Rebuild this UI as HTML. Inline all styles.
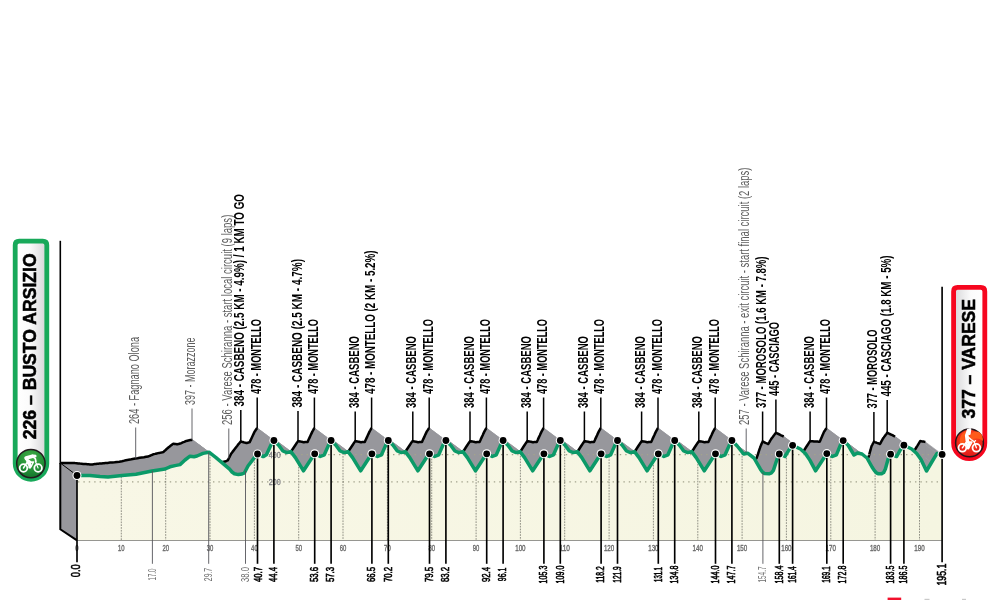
<!DOCTYPE html>
<html><head><meta charset="utf-8"><title>Profile</title>
<style>html,body{margin:0;padding:0;background:#fff;}body{width:1000px;height:600px;overflow:hidden;font-family:"Liberation Sans",sans-serif;}svg{display:block;will-change:transform;}</style>
</head><body>
<svg width="1000" height="600" viewBox="0 0 1000 600" font-family="'Liberation Sans', sans-serif">
<defs>
<linearGradient id="gl" x1="0" x2="1" y1="0" y2="0"><stop offset="0" stop-color="#ffffff"/><stop offset="0.45" stop-color="#fbfbfb"/><stop offset="1" stop-color="#d4d4d6"/></linearGradient>
<linearGradient id="gr" x1="0" x2="1" y1="0" y2="0"><stop offset="0" stop-color="#d6d6d8"/><stop offset="0.55" stop-color="#fbfbfb"/><stop offset="1" stop-color="#ffffff"/></linearGradient>
<radialGradient id="gg" cx="0.5" cy="0.3" r="0.75"><stop offset="0" stop-color="#44ad45"/><stop offset="0.55" stop-color="#259238"/><stop offset="1" stop-color="#0f6e2a"/></radialGradient>
<radialGradient id="rg" cx="0.5" cy="0.35" r="0.75"><stop offset="0" stop-color="#ff5a1e"/><stop offset="0.55" stop-color="#ef2a1a"/><stop offset="1" stop-color="#d8101a"/></radialGradient>
<linearGradient id="yl" x1="0" x2="1" y1="0" y2="0"><stop offset="0" stop-color="#f8f7e6"/><stop offset="1" stop-color="#f5f5e1"/></linearGradient>
</defs>
<rect width="1000" height="600" fill="#fff"/>
<polygon points="77.0,475.5 90.0,475.4 73.3,462.9 60.3,463.0" fill="#97979c" stroke="#97979c" stroke-width="0.6"/>
<polygon points="90.0,475.4 100.0,476.4 83.3,463.9 73.3,462.9" fill="#97979c" stroke="#97979c" stroke-width="0.6"/>
<polygon points="100.0,476.4 108.0,477.0 91.3,464.5 83.3,463.9" fill="#97979c" stroke="#97979c" stroke-width="0.6"/>
<polygon points="108.0,477.0 115.0,476.2 98.3,463.7 91.3,464.5" fill="#97979c" stroke="#97979c" stroke-width="0.6"/>
<polygon points="115.0,476.2 122.0,475.6 105.3,463.1 98.3,463.7" fill="#97979c" stroke="#97979c" stroke-width="0.6"/>
<polygon points="122.0,475.6 136.0,474.2 119.3,461.7 105.3,463.1" fill="#97979c" stroke="#97979c" stroke-width="0.6"/>
<polygon points="136.0,474.2 152.0,471.0 135.3,458.5 119.3,461.7" fill="#97979c" stroke="#97979c" stroke-width="0.6"/>
<polygon points="152.0,471.0 165.0,469.0 148.3,456.5 135.3,458.5" fill="#97979c" stroke="#97979c" stroke-width="0.6"/>
<polygon points="165.0,469.0 170.0,466.8 153.3,454.3 148.3,456.5" fill="#97979c" stroke="#97979c" stroke-width="0.6"/>
<polygon points="170.0,466.8 175.0,465.6 158.3,453.1 153.3,454.3" fill="#97979c" stroke="#97979c" stroke-width="0.6"/>
<polygon points="175.0,465.6 180.0,464.6 163.3,452.1 158.3,453.1" fill="#97979c" stroke="#97979c" stroke-width="0.6"/>
<polygon points="180.0,464.6 185.0,460.0 168.3,447.5 163.3,452.1" fill="#97979c" stroke="#97979c" stroke-width="0.6"/>
<polygon points="185.0,460.0 190.0,456.2 173.3,443.7 168.3,447.5" fill="#97979c" stroke="#97979c" stroke-width="0.6"/>
<polygon points="190.0,456.2 194.0,456.8 177.3,444.3 173.3,443.7" fill="#97979c" stroke="#97979c" stroke-width="0.6"/>
<polygon points="194.0,456.8 197.0,456.0 180.3,443.5 177.3,444.3" fill="#97979c" stroke="#97979c" stroke-width="0.6"/>
<polygon points="197.0,456.0 203.0,453.4 186.3,440.9 180.3,443.5" fill="#97979c" stroke="#97979c" stroke-width="0.6"/>
<polygon points="203.0,453.4 209.0,452.2 192.3,439.7 186.3,440.9" fill="#97979c" stroke="#97979c" stroke-width="0.6"/>
<polygon points="209.0,452.2 216.0,457.6 199.3,445.1 192.3,439.7" fill="#97979c" stroke="#97979c" stroke-width="0.6"/>
<polygon points="216.0,457.6 224.0,464.4 207.3,451.9 199.3,445.1" fill="#97979c" stroke="#97979c" stroke-width="0.6"/>
<polygon points="224.0,464.4 229.6,469.2 212.9,456.7 207.3,451.9" fill="#97979c" stroke="#97979c" stroke-width="0.6"/>
<polygon points="229.6,469.2 232.0,472.0 215.3,459.5 212.9,456.7" fill="#97979c" stroke="#97979c" stroke-width="0.6"/>
<polygon points="232.0,472.0 234.4,473.7 217.7,461.2 215.3,459.5" fill="#97979c" stroke="#97979c" stroke-width="0.6"/>
<polygon points="234.4,473.7 238.4,474.6 221.7,462.1 217.7,461.2" fill="#97979c" stroke="#97979c" stroke-width="0.6"/>
<polygon points="238.4,474.6 242.0,474.0 225.3,461.5 221.7,462.1" fill="#97979c" stroke="#97979c" stroke-width="0.6"/>
<polygon points="242.0,474.0 244.5,472.8 227.8,460.3 225.3,461.5" fill="#97979c" stroke="#97979c" stroke-width="0.6"/>
<polygon points="244.5,472.8 248.0,466.0 231.3,453.5 227.8,460.3" fill="#97979c" stroke="#97979c" stroke-width="0.6"/>
<polygon points="248.0,466.0 255.2,456.6 238.5,444.1 231.3,453.5" fill="#97979c" stroke="#97979c" stroke-width="0.6"/>
<polygon points="255.2,456.6 257.5,454.0 240.8,441.5 238.5,444.1" fill="#97979c" stroke="#97979c" stroke-width="0.6"/>
<polygon points="257.5,454.0 263.2,456.6 246.5,443.1 240.8,441.5" fill="#97979c" stroke="#97979c" stroke-width="0.6"/>
<polygon points="263.2,456.6 266.4,454.8 249.7,442.1 246.5,443.1" fill="#97979c" stroke="#97979c" stroke-width="0.6"/>
<polygon points="266.4,454.8 271.2,444.4 254.5,431.9 249.7,442.1" fill="#97979c" stroke="#97979c" stroke-width="0.6"/>
<polygon points="271.2,444.4 273.9,440.5 257.2,428.0 254.5,431.9" fill="#97979c" stroke="#97979c" stroke-width="0.6"/>
<polygon points="273.9,440.5 278.7,445.2 262.0,432.7 257.2,428.0" fill="#97979c" stroke="#97979c" stroke-width="0.6"/>
<polygon points="278.7,445.2 282.9,451.0 266.2,438.5 262.0,432.7" fill="#97979c" stroke="#97979c" stroke-width="0.6"/>
<polygon points="282.9,451.0 286.9,452.6 270.2,440.1 266.2,438.5" fill="#97979c" stroke="#97979c" stroke-width="0.6"/>
<polygon points="286.9,452.6 290.9,451.6 274.2,439.1 270.2,440.1" fill="#97979c" stroke="#97979c" stroke-width="0.6"/>
<polygon points="290.9,451.6 295.4,457.6 278.7,445.1 274.2,439.1" fill="#97979c" stroke="#97979c" stroke-width="0.6"/>
<polygon points="295.4,457.6 303.5,470.8 286.8,458.3 278.7,445.1" fill="#97979c" stroke="#97979c" stroke-width="0.6"/>
<polygon points="303.5,470.8 312.3,457.2 295.6,444.7 286.8,458.3" fill="#97979c" stroke="#97979c" stroke-width="0.6"/>
<polygon points="312.3,457.2 314.8,453.6 298.1,441.1 295.6,444.7" fill="#97979c" stroke="#97979c" stroke-width="0.6"/>
<polygon points="314.8,453.6 320.3,456.5 303.6,442.2 298.1,441.1" fill="#97979c" stroke="#97979c" stroke-width="0.6"/>
<polygon points="320.3,456.5 324.3,454.8 307.6,442.0 303.6,442.2" fill="#97979c" stroke="#97979c" stroke-width="0.6"/>
<polygon points="324.3,454.8 328.9,444.4 312.2,431.9 307.6,442.0" fill="#97979c" stroke="#97979c" stroke-width="0.6"/>
<polygon points="328.9,444.4 331.1,440.5 314.4,428.0 312.2,431.9" fill="#97979c" stroke="#97979c" stroke-width="0.6"/>
<polygon points="331.1,440.5 335.9,445.2 319.2,432.7 314.4,428.0" fill="#97979c" stroke="#97979c" stroke-width="0.6"/>
<polygon points="335.9,445.2 340.1,451.0 323.4,438.5 319.2,432.7" fill="#97979c" stroke="#97979c" stroke-width="0.6"/>
<polygon points="340.1,451.0 344.1,452.6 327.4,440.1 323.4,438.5" fill="#97979c" stroke="#97979c" stroke-width="0.6"/>
<polygon points="344.1,452.6 348.1,451.6 331.4,439.1 327.4,440.1" fill="#97979c" stroke="#97979c" stroke-width="0.6"/>
<polygon points="348.1,451.6 352.6,457.6 335.9,445.1 331.4,439.1" fill="#97979c" stroke="#97979c" stroke-width="0.6"/>
<polygon points="352.6,457.6 360.7,470.8 344.0,458.3 335.9,445.1" fill="#97979c" stroke="#97979c" stroke-width="0.6"/>
<polygon points="360.7,470.8 369.5,457.2 352.8,444.7 344.0,458.3" fill="#97979c" stroke="#97979c" stroke-width="0.6"/>
<polygon points="369.5,457.2 372.0,453.6 355.3,441.1 352.8,444.7" fill="#97979c" stroke="#97979c" stroke-width="0.6"/>
<polygon points="372.0,453.6 377.5,456.5 360.8,442.2 355.3,441.1" fill="#97979c" stroke="#97979c" stroke-width="0.6"/>
<polygon points="377.5,456.5 381.5,454.8 364.8,442.0 360.8,442.2" fill="#97979c" stroke="#97979c" stroke-width="0.6"/>
<polygon points="381.5,454.8 386.1,444.4 369.4,431.9 364.8,442.0" fill="#97979c" stroke="#97979c" stroke-width="0.6"/>
<polygon points="386.1,444.4 388.3,440.5 371.6,428.0 369.4,431.9" fill="#97979c" stroke="#97979c" stroke-width="0.6"/>
<polygon points="388.3,440.5 393.1,445.2 376.4,432.7 371.6,428.0" fill="#97979c" stroke="#97979c" stroke-width="0.6"/>
<polygon points="393.1,445.2 397.3,451.0 380.6,438.5 376.4,432.7" fill="#97979c" stroke="#97979c" stroke-width="0.6"/>
<polygon points="397.3,451.0 401.3,452.6 384.6,440.1 380.6,438.5" fill="#97979c" stroke="#97979c" stroke-width="0.6"/>
<polygon points="401.3,452.6 405.3,451.6 388.6,439.1 384.6,440.1" fill="#97979c" stroke="#97979c" stroke-width="0.6"/>
<polygon points="405.3,451.6 409.8,457.6 393.1,445.1 388.6,439.1" fill="#97979c" stroke="#97979c" stroke-width="0.6"/>
<polygon points="409.8,457.6 417.9,470.8 401.2,458.3 393.1,445.1" fill="#97979c" stroke="#97979c" stroke-width="0.6"/>
<polygon points="417.9,470.8 426.7,457.2 410.0,444.7 401.2,458.3" fill="#97979c" stroke="#97979c" stroke-width="0.6"/>
<polygon points="426.7,457.2 429.2,453.6 412.5,441.1 410.0,444.7" fill="#97979c" stroke="#97979c" stroke-width="0.6"/>
<polygon points="429.2,453.6 434.7,456.5 418.0,442.2 412.5,441.1" fill="#97979c" stroke="#97979c" stroke-width="0.6"/>
<polygon points="434.7,456.5 438.7,454.8 422.0,442.0 418.0,442.2" fill="#97979c" stroke="#97979c" stroke-width="0.6"/>
<polygon points="438.7,454.8 443.3,444.4 426.6,431.9 422.0,442.0" fill="#97979c" stroke="#97979c" stroke-width="0.6"/>
<polygon points="443.3,444.4 445.9,440.5 429.2,428.0 426.6,431.9" fill="#97979c" stroke="#97979c" stroke-width="0.6"/>
<polygon points="445.9,440.5 450.7,445.2 434.0,432.7 429.2,428.0" fill="#97979c" stroke="#97979c" stroke-width="0.6"/>
<polygon points="450.7,445.2 454.9,451.0 438.2,438.5 434.0,432.7" fill="#97979c" stroke="#97979c" stroke-width="0.6"/>
<polygon points="454.9,451.0 458.9,452.6 442.2,440.1 438.2,438.5" fill="#97979c" stroke="#97979c" stroke-width="0.6"/>
<polygon points="458.9,452.6 462.9,451.6 446.2,439.1 442.2,440.1" fill="#97979c" stroke="#97979c" stroke-width="0.6"/>
<polygon points="462.9,451.6 467.4,457.6 450.7,445.1 446.2,439.1" fill="#97979c" stroke="#97979c" stroke-width="0.6"/>
<polygon points="467.4,457.6 475.5,470.8 458.8,458.3 450.7,445.1" fill="#97979c" stroke="#97979c" stroke-width="0.6"/>
<polygon points="475.5,470.8 484.3,457.2 467.6,444.7 458.8,458.3" fill="#97979c" stroke="#97979c" stroke-width="0.6"/>
<polygon points="484.3,457.2 486.8,453.6 470.1,441.1 467.6,444.7" fill="#97979c" stroke="#97979c" stroke-width="0.6"/>
<polygon points="486.8,453.6 492.3,456.5 475.6,442.2 470.1,441.1" fill="#97979c" stroke="#97979c" stroke-width="0.6"/>
<polygon points="492.3,456.5 496.3,454.8 479.6,442.0 475.6,442.2" fill="#97979c" stroke="#97979c" stroke-width="0.6"/>
<polygon points="496.3,454.8 500.9,444.4 484.2,431.9 479.6,442.0" fill="#97979c" stroke="#97979c" stroke-width="0.6"/>
<polygon points="500.9,444.4 503.1,440.5 486.4,428.0 484.2,431.9" fill="#97979c" stroke="#97979c" stroke-width="0.6"/>
<polygon points="503.1,440.5 507.9,445.2 491.2,432.7 486.4,428.0" fill="#97979c" stroke="#97979c" stroke-width="0.6"/>
<polygon points="507.9,445.2 512.1,451.0 495.4,438.5 491.2,432.7" fill="#97979c" stroke="#97979c" stroke-width="0.6"/>
<polygon points="512.1,451.0 516.1,452.6 499.4,440.1 495.4,438.5" fill="#97979c" stroke="#97979c" stroke-width="0.6"/>
<polygon points="516.1,452.6 520.1,451.6 503.4,439.1 499.4,440.1" fill="#97979c" stroke="#97979c" stroke-width="0.6"/>
<polygon points="520.1,451.6 524.6,457.6 507.9,445.1 503.4,439.1" fill="#97979c" stroke="#97979c" stroke-width="0.6"/>
<polygon points="524.6,457.6 532.7,470.8 516.0,458.3 507.9,445.1" fill="#97979c" stroke="#97979c" stroke-width="0.6"/>
<polygon points="532.7,470.8 541.5,457.2 524.8,444.7 516.0,458.3" fill="#97979c" stroke="#97979c" stroke-width="0.6"/>
<polygon points="541.5,457.2 544.0,453.6 527.3,441.1 524.8,444.7" fill="#97979c" stroke="#97979c" stroke-width="0.6"/>
<polygon points="544.0,453.6 549.5,456.5 532.8,442.2 527.3,441.1" fill="#97979c" stroke="#97979c" stroke-width="0.6"/>
<polygon points="549.5,456.5 553.5,454.8 536.8,442.0 532.8,442.2" fill="#97979c" stroke="#97979c" stroke-width="0.6"/>
<polygon points="553.5,454.8 558.1,444.4 541.4,431.9 536.8,442.0" fill="#97979c" stroke="#97979c" stroke-width="0.6"/>
<polygon points="558.1,444.4 560.3,440.5 543.6,428.0 541.4,431.9" fill="#97979c" stroke="#97979c" stroke-width="0.6"/>
<polygon points="560.3,440.5 565.1,445.2 548.4,432.7 543.6,428.0" fill="#97979c" stroke="#97979c" stroke-width="0.6"/>
<polygon points="565.1,445.2 569.3,451.0 552.6,438.5 548.4,432.7" fill="#97979c" stroke="#97979c" stroke-width="0.6"/>
<polygon points="569.3,451.0 573.3,452.6 556.6,440.1 552.6,438.5" fill="#97979c" stroke="#97979c" stroke-width="0.6"/>
<polygon points="573.3,452.6 577.3,451.6 560.6,439.1 556.6,440.1" fill="#97979c" stroke="#97979c" stroke-width="0.6"/>
<polygon points="577.3,451.6 581.8,457.6 565.1,445.1 560.6,439.1" fill="#97979c" stroke="#97979c" stroke-width="0.6"/>
<polygon points="581.8,457.6 589.9,470.8 573.2,458.3 565.1,445.1" fill="#97979c" stroke="#97979c" stroke-width="0.6"/>
<polygon points="589.9,470.8 598.7,457.2 582.0,444.7 573.2,458.3" fill="#97979c" stroke="#97979c" stroke-width="0.6"/>
<polygon points="598.7,457.2 601.2,453.6 584.5,441.1 582.0,444.7" fill="#97979c" stroke="#97979c" stroke-width="0.6"/>
<polygon points="601.2,453.6 606.7,456.5 590.0,442.2 584.5,441.1" fill="#97979c" stroke="#97979c" stroke-width="0.6"/>
<polygon points="606.7,456.5 610.7,454.8 594.0,442.0 590.0,442.2" fill="#97979c" stroke="#97979c" stroke-width="0.6"/>
<polygon points="610.7,454.8 615.3,444.4 598.6,431.9 594.0,442.0" fill="#97979c" stroke="#97979c" stroke-width="0.6"/>
<polygon points="615.3,444.4 617.5,440.5 600.8,428.0 598.6,431.9" fill="#97979c" stroke="#97979c" stroke-width="0.6"/>
<polygon points="617.5,440.5 622.3,445.2 605.6,432.7 600.8,428.0" fill="#97979c" stroke="#97979c" stroke-width="0.6"/>
<polygon points="622.3,445.2 626.5,451.0 609.8,438.5 605.6,432.7" fill="#97979c" stroke="#97979c" stroke-width="0.6"/>
<polygon points="626.5,451.0 630.5,452.6 613.8,440.1 609.8,438.5" fill="#97979c" stroke="#97979c" stroke-width="0.6"/>
<polygon points="630.5,452.6 634.5,451.6 617.8,439.1 613.8,440.1" fill="#97979c" stroke="#97979c" stroke-width="0.6"/>
<polygon points="634.5,451.6 639.0,457.6 622.3,445.1 617.8,439.1" fill="#97979c" stroke="#97979c" stroke-width="0.6"/>
<polygon points="639.0,457.6 647.1,470.8 630.4,458.3 622.3,445.1" fill="#97979c" stroke="#97979c" stroke-width="0.6"/>
<polygon points="647.1,470.8 655.9,457.2 639.2,444.7 630.4,458.3" fill="#97979c" stroke="#97979c" stroke-width="0.6"/>
<polygon points="655.9,457.2 658.4,453.6 641.7,441.1 639.2,444.7" fill="#97979c" stroke="#97979c" stroke-width="0.6"/>
<polygon points="658.4,453.6 663.9,456.5 647.2,442.2 641.7,441.1" fill="#97979c" stroke="#97979c" stroke-width="0.6"/>
<polygon points="663.9,456.5 667.9,454.8 651.2,442.0 647.2,442.2" fill="#97979c" stroke="#97979c" stroke-width="0.6"/>
<polygon points="667.9,454.8 672.5,444.4 655.8,431.9 651.2,442.0" fill="#97979c" stroke="#97979c" stroke-width="0.6"/>
<polygon points="672.5,444.4 674.7,440.5 658.0,428.0 655.8,431.9" fill="#97979c" stroke="#97979c" stroke-width="0.6"/>
<polygon points="674.7,440.5 679.5,445.2 662.8,432.7 658.0,428.0" fill="#97979c" stroke="#97979c" stroke-width="0.6"/>
<polygon points="679.5,445.2 683.7,451.0 667.0,438.5 662.8,432.7" fill="#97979c" stroke="#97979c" stroke-width="0.6"/>
<polygon points="683.7,451.0 687.7,452.6 671.0,440.1 667.0,438.5" fill="#97979c" stroke="#97979c" stroke-width="0.6"/>
<polygon points="687.7,452.6 691.7,451.6 675.0,439.1 671.0,440.1" fill="#97979c" stroke="#97979c" stroke-width="0.6"/>
<polygon points="691.7,451.6 696.2,457.6 679.5,445.1 675.0,439.1" fill="#97979c" stroke="#97979c" stroke-width="0.6"/>
<polygon points="696.2,457.6 704.3,470.8 687.6,458.3 679.5,445.1" fill="#97979c" stroke="#97979c" stroke-width="0.6"/>
<polygon points="704.3,470.8 713.1,457.2 696.4,444.7 687.6,458.3" fill="#97979c" stroke="#97979c" stroke-width="0.6"/>
<polygon points="713.1,457.2 715.6,453.6 698.9,441.1 696.4,444.7" fill="#97979c" stroke="#97979c" stroke-width="0.6"/>
<polygon points="715.6,453.6 721.1,456.5 704.4,442.2 698.9,441.1" fill="#97979c" stroke="#97979c" stroke-width="0.6"/>
<polygon points="721.1,456.5 725.1,454.8 708.4,442.0 704.4,442.2" fill="#97979c" stroke="#97979c" stroke-width="0.6"/>
<polygon points="725.1,454.8 729.7,444.4 713.0,431.9 708.4,442.0" fill="#97979c" stroke="#97979c" stroke-width="0.6"/>
<polygon points="729.7,444.4 731.9,440.5 715.2,428.0 713.0,431.9" fill="#97979c" stroke="#97979c" stroke-width="0.6"/>
<polygon points="731.9,440.5 737.2,446.0 720.5,433.5 715.2,428.0" fill="#97979c" stroke="#97979c" stroke-width="0.6"/>
<polygon points="737.2,446.0 743.6,454.0 726.9,441.5 720.5,433.5" fill="#97979c" stroke="#97979c" stroke-width="0.6"/>
<polygon points="743.6,454.0 747.6,453.2 730.9,440.7 726.9,441.5" fill="#97979c" stroke="#97979c" stroke-width="0.6"/>
<polygon points="747.6,453.2 754.0,458.0 737.3,445.5 730.9,440.7" fill="#97979c" stroke="#97979c" stroke-width="0.6"/>
<polygon points="754.0,458.0 760.4,469.2 743.7,456.7 737.3,445.5" fill="#97979c" stroke="#97979c" stroke-width="0.6"/>
<polygon points="760.4,469.2 762.4,472.0 745.7,459.5 743.7,456.7" fill="#97979c" stroke="#97979c" stroke-width="0.6"/>
<polygon points="762.4,472.0 764.6,473.6 747.9,461.1 745.7,459.5" fill="#97979c" stroke="#97979c" stroke-width="0.6"/>
<polygon points="764.6,473.6 769.0,473.8 752.3,461.3 747.9,461.1" fill="#97979c" stroke="#97979c" stroke-width="0.6"/>
<polygon points="769.0,473.8 771.6,472.8 754.9,460.3 752.3,461.3" fill="#97979c" stroke="#97979c" stroke-width="0.6"/>
<polygon points="771.6,472.8 773.4,470.4 756.7,457.9 754.9,460.3" fill="#97979c" stroke="#97979c" stroke-width="0.6"/>
<polygon points="773.4,470.4 777.2,458.8 760.5,446.3 756.7,457.9" fill="#97979c" stroke="#97979c" stroke-width="0.6"/>
<polygon points="777.2,458.8 779.3,454.0 762.6,441.5 760.5,446.3" fill="#97979c" stroke="#97979c" stroke-width="0.6"/>
<polygon points="779.3,454.0 784.9,456.5 768.2,444.0 762.6,441.5" fill="#97979c" stroke="#97979c" stroke-width="0.6"/>
<polygon points="784.9,456.5 788.4,450.8 771.7,438.3 768.2,444.0" fill="#97979c" stroke="#97979c" stroke-width="0.6"/>
<polygon points="788.4,450.8 792.6,445.3 775.9,432.8 771.7,438.3" fill="#97979c" stroke="#97979c" stroke-width="0.6"/>
<polygon points="792.6,445.3 800.4,449.0 783.7,436.5 775.9,432.8" fill="#97979c" stroke="#97979c" stroke-width="0.6"/>
<polygon points="800.4,449.0 805.4,453.5 788.7,441.0 783.7,436.5" fill="#97979c" stroke="#97979c" stroke-width="0.6"/>
<polygon points="805.4,453.5 810.0,460.4 793.3,447.9 788.7,441.0" fill="#97979c" stroke="#97979c" stroke-width="0.6"/>
<polygon points="810.0,460.4 815.6,470.8 798.9,458.3 793.3,447.9" fill="#97979c" stroke="#97979c" stroke-width="0.6"/>
<polygon points="815.6,470.8 824.4,457.2 807.7,444.7 798.9,458.3" fill="#97979c" stroke="#97979c" stroke-width="0.6"/>
<polygon points="824.4,457.2 826.8,453.6 810.1,441.1 807.7,444.7" fill="#97979c" stroke="#97979c" stroke-width="0.6"/>
<polygon points="826.8,453.6 832.4,456.5 815.7,441.5 810.1,441.1" fill="#97979c" stroke="#97979c" stroke-width="0.6"/>
<polygon points="832.4,456.5 836.4,454.8 819.7,441.8 815.7,441.5" fill="#97979c" stroke="#97979c" stroke-width="0.6"/>
<polygon points="836.4,454.8 840.6,444.6 823.9,432.1 819.7,441.8" fill="#97979c" stroke="#97979c" stroke-width="0.6"/>
<polygon points="840.6,444.6 843.2,440.6 826.5,428.1 823.9,432.1" fill="#97979c" stroke="#97979c" stroke-width="0.6"/>
<polygon points="843.2,440.6 848.0,445.0 831.3,432.5 826.5,428.1" fill="#97979c" stroke="#97979c" stroke-width="0.6"/>
<polygon points="848.0,445.0 854.0,455.0 837.3,442.5 831.3,432.5" fill="#97979c" stroke="#97979c" stroke-width="0.6"/>
<polygon points="854.0,455.0 857.5,453.0 840.8,440.5 837.3,442.5" fill="#97979c" stroke="#97979c" stroke-width="0.6"/>
<polygon points="857.5,453.0 862.0,454.0 845.3,441.5 840.8,440.5" fill="#97979c" stroke="#97979c" stroke-width="0.6"/>
<polygon points="862.0,454.0 867.0,458.0 850.3,445.5 845.3,441.5" fill="#97979c" stroke="#97979c" stroke-width="0.6"/>
<polygon points="867.0,458.0 872.0,467.0 855.3,454.5 850.3,445.5" fill="#97979c" stroke="#97979c" stroke-width="0.6"/>
<polygon points="872.0,467.0 874.4,470.6 857.7,458.1 855.3,454.5" fill="#97979c" stroke="#97979c" stroke-width="0.6"/>
<polygon points="874.4,470.6 876.4,472.8 859.7,460.3 857.7,458.1" fill="#97979c" stroke="#97979c" stroke-width="0.6"/>
<polygon points="876.4,472.8 878.6,473.8 861.9,461.3 859.7,460.3" fill="#97979c" stroke="#97979c" stroke-width="0.6"/>
<polygon points="878.6,473.8 881.6,473.8 864.9,461.3 861.9,461.3" fill="#97979c" stroke="#97979c" stroke-width="0.6"/>
<polygon points="881.6,473.8 883.6,472.6 866.9,460.1 864.9,461.3" fill="#97979c" stroke="#97979c" stroke-width="0.6"/>
<polygon points="883.6,472.6 885.4,469.0 868.7,456.5 866.9,460.1" fill="#97979c" stroke="#97979c" stroke-width="0.6"/>
<polygon points="885.4,469.0 888.2,458.8 871.5,446.3 868.7,456.5" fill="#97979c" stroke="#97979c" stroke-width="0.6"/>
<polygon points="888.2,458.8 890.6,454.2 873.9,441.7 871.5,446.3" fill="#97979c" stroke="#97979c" stroke-width="0.6"/>
<polygon points="890.6,454.2 896.7,456.5 880.0,444.0 873.9,441.7" fill="#97979c" stroke="#97979c" stroke-width="0.6"/>
<polygon points="896.7,456.5 899.8,450.8 883.1,438.3 880.0,444.0" fill="#97979c" stroke="#97979c" stroke-width="0.6"/>
<polygon points="899.8,450.8 903.9,445.2 887.2,432.7 883.1,438.3" fill="#97979c" stroke="#97979c" stroke-width="0.6"/>
<polygon points="903.9,445.2 911.7,449.0 895.0,436.5 887.2,432.7" fill="#97979c" stroke="#97979c" stroke-width="0.6"/>
<polygon points="911.7,449.0 916.7,453.5 900.0,441.0 895.0,436.5" fill="#97979c" stroke="#97979c" stroke-width="0.6"/>
<polygon points="916.7,453.5 921.0,459.5 904.3,447.0 900.0,441.0" fill="#97979c" stroke="#97979c" stroke-width="0.6"/>
<polygon points="921.0,459.5 926.5,471.0 909.8,458.5 904.3,447.0" fill="#97979c" stroke="#97979c" stroke-width="0.6"/>
<polygon points="926.5,471.0 931.5,462.5 914.8,450.0 909.8,458.5" fill="#97979c" stroke="#97979c" stroke-width="0.6"/>
<polygon points="931.5,462.5 936.9,453.6 920.2,441.1 914.8,450.0" fill="#97979c" stroke="#97979c" stroke-width="0.6"/>
<polygon points="936.9,453.6 942.1,454.4 925.4,441.9 920.2,441.1" fill="#97979c" stroke="#97979c" stroke-width="0.6"/>
<polygon points="60.3,463.0 73.3,462.9 83.3,463.9 91.3,464.5 98.3,463.7 105.3,463.1 119.3,461.7 135.3,458.5 148.3,456.5 153.3,454.3 158.3,453.1 163.3,452.1 168.3,447.5 173.3,443.7 177.3,444.3 180.3,443.5 186.3,440.9 192.3,439.7 199.3,445.1 207.3,451.9 212.9,456.7 215.3,459.5 217.7,461.2 221.7,462.1 225.3,461.5 227.8,460.3 231.3,453.5 238.5,444.1 240.8,441.5 246.5,443.1 249.7,442.1 254.5,431.9 257.2,428.0 262.0,432.7 266.2,438.5 270.2,440.1 274.2,439.1 278.7,445.1 286.8,458.3 295.6,444.7 298.1,441.1 303.6,442.2 307.6,442.0 312.2,431.9 314.4,428.0 319.2,432.7 323.4,438.5 327.4,440.1 331.4,439.1 335.9,445.1 344.0,458.3 352.8,444.7 355.3,441.1 360.8,442.2 364.8,442.0 369.4,431.9 371.6,428.0 376.4,432.7 380.6,438.5 384.6,440.1 388.6,439.1 393.1,445.1 401.2,458.3 410.0,444.7 412.5,441.1 418.0,442.2 422.0,442.0 426.6,431.9 429.2,428.0 434.0,432.7 438.2,438.5 442.2,440.1 446.2,439.1 450.7,445.1 458.8,458.3 467.6,444.7 470.1,441.1 475.6,442.2 479.6,442.0 484.2,431.9 486.4,428.0 491.2,432.7 495.4,438.5 499.4,440.1 503.4,439.1 507.9,445.1 516.0,458.3 524.8,444.7 527.3,441.1 532.8,442.2 536.8,442.0 541.4,431.9 543.6,428.0 548.4,432.7 552.6,438.5 556.6,440.1 560.6,439.1 565.1,445.1 573.2,458.3 582.0,444.7 584.5,441.1 590.0,442.2 594.0,442.0 598.6,431.9 600.8,428.0 605.6,432.7 609.8,438.5 613.8,440.1 617.8,439.1 622.3,445.1 630.4,458.3 639.2,444.7 641.7,441.1 647.2,442.2 651.2,442.0 655.8,431.9 658.0,428.0 662.8,432.7 667.0,438.5 671.0,440.1 675.0,439.1 679.5,445.1 687.6,458.3 696.4,444.7 698.9,441.1 704.4,442.2 708.4,442.0 713.0,431.9 715.2,428.0 720.5,433.5 726.9,441.5 730.9,440.7 737.3,445.5 743.7,456.7 745.7,459.5 747.9,461.1 752.3,461.3 754.9,460.3 756.7,457.9 760.5,446.3 762.6,441.5 768.2,444.0 771.7,438.3 775.9,432.8 783.7,436.5 788.7,441.0 793.3,447.9 798.9,458.3 807.7,444.7 810.1,441.1 815.7,441.5 819.7,441.8 823.9,432.1 826.5,428.1 831.3,432.5 837.3,442.5 840.8,440.5 845.3,441.5 850.3,445.5 855.3,454.5 857.7,458.1 859.7,460.3 861.9,461.3 864.9,461.3 866.9,460.1 868.7,456.5 871.5,446.3 873.9,441.7 880.0,444.0 883.1,438.3 887.2,432.7 895.0,436.5 900.0,441.0 904.3,447.0 909.8,458.5 914.8,450.0 920.2,441.1 925.4,441.9 925.4,527.8 60.3,527.8" fill="#97979c"/>
<polyline points="60.3,463.0 62.5,463.0 64.6,463.0 66.8,462.9 69.0,462.9 71.1,462.9 73.3,462.9 75.0,463.1 76.6,463.2 78.3,463.4 80.0,463.6 81.6,463.7 83.3,463.9 84.6,464.0 86.0,464.1 87.3,464.2 88.6,464.3 90.0,464.4 91.3,464.5 92.5,464.4 93.6,464.2 94.8,464.1 96.0,464.0 97.1,463.8 98.3,463.7 99.5,463.6 100.6,463.5 101.8,463.4 103.0,463.3 104.1,463.2 105.3,463.1 107.6,462.9 110.0,462.6 112.3,462.4 114.6,462.2 117.0,461.9 119.3,461.7 122.0,461.2 124.6,460.6 127.3,460.1 130.0,459.6 132.6,459.0 135.3,458.5 137.5,458.2 139.6,457.8 141.8,457.5 144.0,457.2 146.1,456.8 148.3,456.5 149.1,456.1 150.0,455.8 150.8,455.4 151.6,455.0 152.5,454.7 153.3,454.3 154.1,454.1 155.0,453.9 155.8,453.7 156.6,453.5 157.5,453.3 158.3,453.1 159.1,452.9 160.0,452.8 160.8,452.6 161.6,452.4 162.5,452.3 163.3,452.1 164.1,451.3 165.0,450.6 165.8,449.8 166.6,449.0 167.5,448.3 168.3,447.5 169.1,446.9 170.0,446.2 170.8,445.6 171.6,445.0 172.5,444.3 173.3,443.7 174.0,443.8 174.6,443.9 175.3,444.0 176.0,444.1 176.6,444.2 177.3,444.3 177.8,444.2 178.3,444.0 178.8,443.9 179.3,443.8 179.8,443.6 180.3,443.5 181.3,443.1 182.3,442.6 183.3,442.2 184.3,441.8 185.3,441.3 186.3,440.9 187.3,440.7 188.3,440.5 189.3,440.3 190.3,440.1 191.3,439.9 192.3,439.7" fill="none" stroke="#000" stroke-width="2.5" stroke-linejoin="round" stroke-linecap="butt"/>
<polyline points="219.7,461.6 220.4,461.8 221.0,462.0 221.7,462.1 222.3,462.0 222.9,461.9 223.5,461.8 224.1,461.7 224.7,461.6 225.3,461.5 225.7,461.3 226.1,461.1 226.6,460.9 227.0,460.7 227.4,460.5 227.8,460.3 228.4,459.2 229.0,458.0 229.6,456.9 230.1,455.8 230.7,454.6 231.3,453.5 232.5,451.9 233.7,450.4 234.9,448.8 236.1,447.2 237.3,445.7 238.5,444.1 238.9,443.7 239.3,443.2 239.6,442.8 240.0,442.4 240.4,441.9 240.8,441.5 241.7,441.8 242.7,442.0 243.6,442.3 244.6,442.6 245.5,442.8 246.5,443.1 247.0,442.9 247.6,442.8 248.1,442.6 248.6,442.4 249.2,442.3 249.7,442.1 250.5,440.4 251.3,438.7 252.1,437.0 252.9,435.3 253.7,433.6 254.5,431.9 254.9,431.2 255.4,430.6 255.8,429.9 256.3,429.3 256.7,428.6 257.2,428.0" fill="none" stroke="#000" stroke-width="2.5" stroke-linejoin="round" stroke-linecap="butt"/>
<polyline points="271.5,439.8 272.2,439.6 272.8,439.4 273.5,439.3 274.2,439.1" fill="none" stroke="#000" stroke-width="2.5" stroke-linejoin="round" stroke-linecap="butt"/>
<polyline points="291.2,451.5 292.6,449.2 294.1,447.0 295.6,444.7 296.0,444.1 296.4,443.5 296.8,442.9 297.2,442.3 297.7,441.7 298.1,441.1 299.0,441.3 299.9,441.5 300.8,441.6 301.7,441.8 302.7,442.0 303.6,442.2 304.2,442.2 304.9,442.1 305.6,442.1 306.2,442.1 306.9,442.0 307.6,442.0 308.3,440.3 309.1,438.6 309.9,436.9 310.6,435.3 311.4,433.6 312.2,431.9 312.5,431.2 312.9,430.6 313.3,429.9 313.6,429.3 314.0,428.6 314.4,428.0" fill="none" stroke="#000" stroke-width="2.5" stroke-linejoin="round" stroke-linecap="butt"/>
<polyline points="328.7,439.8 329.4,439.6 330.0,439.4 330.7,439.3 331.4,439.1" fill="none" stroke="#000" stroke-width="2.5" stroke-linejoin="round" stroke-linecap="butt"/>
<polyline points="348.4,451.5 349.8,449.2 351.3,447.0 352.8,444.7 353.2,444.1 353.6,443.5 354.0,442.9 354.4,442.3 354.9,441.7 355.3,441.1 356.2,441.3 357.1,441.5 358.0,441.6 358.9,441.8 359.9,442.0 360.8,442.2 361.4,442.2 362.1,442.1 362.8,442.1 363.4,442.1 364.1,442.0 364.8,442.0 365.5,440.3 366.3,438.6 367.1,436.9 367.8,435.3 368.6,433.6 369.4,431.9 369.7,431.2 370.1,430.6 370.5,429.9 370.8,429.3 371.2,428.6 371.6,428.0" fill="none" stroke="#000" stroke-width="2.5" stroke-linejoin="round" stroke-linecap="butt"/>
<polyline points="385.9,439.8 386.6,439.6 387.2,439.4 387.9,439.3 388.6,439.1" fill="none" stroke="#000" stroke-width="2.5" stroke-linejoin="round" stroke-linecap="butt"/>
<polyline points="405.6,451.5 407.0,449.2 408.5,447.0 410.0,444.7 410.4,444.1 410.8,443.5 411.2,442.9 411.6,442.3 412.1,441.7 412.5,441.1 413.4,441.3 414.3,441.5 415.2,441.6 416.1,441.8 417.1,442.0 418.0,442.2 418.6,442.2 419.3,442.1 420.0,442.1 420.6,442.1 421.3,442.0 422.0,442.0 422.7,440.3 423.5,438.6 424.3,436.9 425.0,435.3 425.8,433.6 426.6,431.9 427.0,431.2 427.4,430.6 427.9,429.9 428.3,429.3 428.8,428.6 429.2,428.0" fill="none" stroke="#000" stroke-width="2.5" stroke-linejoin="round" stroke-linecap="butt"/>
<polyline points="443.5,439.8 444.2,439.6 444.9,439.4 445.5,439.3 446.2,439.1" fill="none" stroke="#000" stroke-width="2.5" stroke-linejoin="round" stroke-linecap="butt"/>
<polyline points="463.2,451.5 464.7,449.2 466.1,447.0 467.6,444.7 468.0,444.1 468.4,443.5 468.9,442.9 469.3,442.3 469.7,441.7 470.1,441.1 471.0,441.3 471.9,441.5 472.9,441.6 473.8,441.8 474.7,442.0 475.6,442.2 476.3,442.2 476.9,442.1 477.6,442.1 478.3,442.1 478.9,442.0 479.6,442.0 480.4,440.3 481.1,438.6 481.9,436.9 482.7,435.3 483.4,433.6 484.2,431.9 484.6,431.2 484.9,430.6 485.3,429.9 485.7,429.3 486.0,428.6 486.4,428.0" fill="none" stroke="#000" stroke-width="2.5" stroke-linejoin="round" stroke-linecap="butt"/>
<polyline points="500.7,439.8 501.4,439.6 502.1,439.4 502.7,439.3 503.4,439.1" fill="none" stroke="#000" stroke-width="2.5" stroke-linejoin="round" stroke-linecap="butt"/>
<polyline points="520.4,451.5 521.9,449.2 523.3,447.0 524.8,444.7 525.2,444.1 525.6,443.5 526.1,442.9 526.5,442.3 526.9,441.7 527.3,441.1 528.2,441.3 529.1,441.5 530.1,441.6 531.0,441.8 531.9,442.0 532.8,442.2 533.5,442.2 534.1,442.1 534.8,442.1 535.5,442.1 536.1,442.0 536.8,442.0 537.6,440.3 538.3,438.6 539.1,436.9 539.9,435.3 540.6,433.6 541.4,431.9 541.8,431.2 542.1,430.6 542.5,429.9 542.9,429.3 543.2,428.6 543.6,428.0" fill="none" stroke="#000" stroke-width="2.5" stroke-linejoin="round" stroke-linecap="butt"/>
<polyline points="557.9,439.8 558.6,439.6 559.3,439.4 559.9,439.3 560.6,439.1" fill="none" stroke="#000" stroke-width="2.5" stroke-linejoin="round" stroke-linecap="butt"/>
<polyline points="577.6,451.5 579.1,449.2 580.5,447.0 582.0,444.7 582.4,444.1 582.8,443.5 583.3,442.9 583.7,442.3 584.1,441.7 584.5,441.1 585.4,441.3 586.3,441.5 587.3,441.6 588.2,441.8 589.1,442.0 590.0,442.2 590.7,442.2 591.3,442.1 592.0,442.1 592.7,442.1 593.3,442.0 594.0,442.0 594.8,440.3 595.5,438.6 596.3,436.9 597.1,435.3 597.8,433.6 598.6,431.9 599.0,431.2 599.3,430.6 599.7,429.9 600.1,429.3 600.4,428.6 600.8,428.0" fill="none" stroke="#000" stroke-width="2.5" stroke-linejoin="round" stroke-linecap="butt"/>
<polyline points="615.1,439.8 615.8,439.6 616.5,439.4 617.1,439.3 617.8,439.1" fill="none" stroke="#000" stroke-width="2.5" stroke-linejoin="round" stroke-linecap="butt"/>
<polyline points="634.8,451.5 636.3,449.2 637.7,447.0 639.2,444.7 639.6,444.1 640.0,443.5 640.5,442.9 640.9,442.3 641.3,441.7 641.7,441.1 642.6,441.3 643.5,441.5 644.5,441.6 645.4,441.8 646.3,442.0 647.2,442.2 647.9,442.2 648.5,442.1 649.2,442.1 649.9,442.1 650.5,442.0 651.2,442.0 652.0,440.3 652.7,438.6 653.5,436.9 654.3,435.3 655.0,433.6 655.8,431.9 656.2,431.2 656.5,430.6 656.9,429.9 657.3,429.3 657.6,428.6 658.0,428.0" fill="none" stroke="#000" stroke-width="2.5" stroke-linejoin="round" stroke-linecap="butt"/>
<polyline points="672.3,439.8 673.0,439.6 673.7,439.4 674.3,439.3 675.0,439.1" fill="none" stroke="#000" stroke-width="2.5" stroke-linejoin="round" stroke-linecap="butt"/>
<polyline points="692.0,451.5 693.5,449.2 694.9,447.0 696.4,444.7 696.8,444.1 697.2,443.5 697.7,442.9 698.1,442.3 698.5,441.7 698.9,441.1 699.8,441.3 700.7,441.5 701.7,441.6 702.6,441.8 703.5,442.0 704.4,442.2 705.1,442.2 705.7,442.1 706.4,442.1 707.1,442.1 707.7,442.0 708.4,442.0 709.2,440.3 709.9,438.6 710.7,436.9 711.5,435.3 712.2,433.6 713.0,431.9 713.4,431.2 713.7,430.6 714.1,429.9 714.5,429.3 714.8,428.6 715.2,428.0" fill="none" stroke="#000" stroke-width="2.5" stroke-linejoin="round" stroke-linecap="butt"/>
<polyline points="755.5,459.5 755.8,459.1 756.1,458.7 756.4,458.3 756.7,457.9 757.3,456.0 758.0,454.0 758.6,452.1 759.2,450.2 759.9,448.2 760.5,446.3 760.9,445.5 761.2,444.7 761.6,443.9 761.9,443.1 762.3,442.3 762.6,441.5 763.6,441.9 764.5,442.3 765.4,442.8 766.3,443.2 767.3,443.6 768.2,444.0 768.8,443.1 769.4,442.1 769.9,441.1 770.5,440.2 771.1,439.2 771.7,438.3 772.4,437.4 773.1,436.5 773.8,435.6 774.5,434.6 775.2,433.7 775.9,432.8 777.2,433.4 778.5,434.0 779.8,434.6 781.1,435.3 782.4,435.9 783.7,436.5" fill="none" stroke="#000" stroke-width="2.5" stroke-linejoin="round" stroke-linecap="butt"/>
<polyline points="803.3,451.5 804.8,449.2 806.2,447.0 807.7,444.7 808.1,444.1 808.5,443.5 808.9,442.9 809.3,442.3 809.7,441.7 810.1,441.1 811.0,441.2 812.0,441.2 812.9,441.3 813.8,441.4 814.8,441.4 815.7,441.5 816.4,441.6 817.0,441.6 817.7,441.6 818.4,441.7 819.0,441.8 819.7,441.8 820.4,440.2 821.1,438.6 821.8,437.0 822.5,435.3 823.2,433.7 823.9,432.1 824.3,431.4 824.8,430.8 825.2,430.1 825.6,429.4 826.1,428.8 826.5,428.1" fill="none" stroke="#000" stroke-width="2.5" stroke-linejoin="round" stroke-linecap="butt"/>
<polyline points="842.3,440.8 843.0,441.0 843.8,441.2 844.5,441.3 845.3,441.5" fill="none" stroke="#000" stroke-width="2.5" stroke-linejoin="round" stroke-linecap="butt"/>
<polyline points="867.8,458.3 868.1,457.7 868.4,457.1 868.7,456.5 869.2,454.8 869.6,453.1 870.1,451.4 870.6,449.7 871.0,448.0 871.5,446.3 871.9,445.5 872.3,444.8 872.7,444.0 873.1,443.2 873.5,442.5 873.9,441.7 874.9,442.1 876.0,442.5 877.0,442.9 878.0,443.2 879.0,443.6 880.0,444.0 880.5,443.1 881.0,442.1 881.5,441.1 882.1,440.2 882.6,439.2 883.1,438.3 883.8,437.4 884.5,436.4 885.2,435.5 885.9,434.6 886.6,433.6 887.2,432.7 888.5,433.3 889.8,434.0 891.1,434.6 892.4,435.2 893.7,435.9 895.0,436.5" fill="none" stroke="#000" stroke-width="2.5" stroke-linejoin="round" stroke-linecap="butt"/>
<polyline points="914.0,451.4 914.8,450.0 915.7,448.5 916.6,447.0 917.5,445.6 918.4,444.1 919.3,442.6 920.2,441.1 921.1,441.2 921.9,441.4 922.8,441.5 923.7,441.6 924.5,441.8 925.4,441.9" fill="none" stroke="#000" stroke-width="2.5" stroke-linejoin="round" stroke-linecap="butt"/>
<polygon points="60.3,463 77,475.5 77,540.3 60.3,529.3" fill="#97979c"/>
<polyline points="60.3,463 60.3,529.3 77,540.3" fill="none" stroke="#000" stroke-width="2" stroke-linejoin="miter"/>
<line x1="60.3" y1="463" x2="77" y2="475.5" stroke="#000" stroke-width="1"/>
<polygon points="77.0,475.5 90.0,475.4 100.0,476.4 108.0,477.0 115.0,476.2 122.0,475.6 136.0,474.2 152.0,471.0 165.0,469.0 170.0,466.8 175.0,465.6 180.0,464.6 185.0,460.0 190.0,456.2 194.0,456.8 197.0,456.0 203.0,453.4 209.0,452.2 216.0,457.6 224.0,464.4 229.6,469.2 232.0,472.0 234.4,473.7 238.4,474.6 242.0,474.0 244.5,472.8 248.0,466.0 255.2,456.6 257.5,454.0 263.2,456.6 266.4,454.8 271.2,444.4 273.9,440.5 278.7,445.2 282.9,451.0 286.9,452.6 290.9,451.6 295.4,457.6 303.5,470.8 312.3,457.2 314.8,453.6 320.3,456.5 324.3,454.8 328.9,444.4 331.1,440.5 335.9,445.2 340.1,451.0 344.1,452.6 348.1,451.6 352.6,457.6 360.7,470.8 369.5,457.2 372.0,453.6 377.5,456.5 381.5,454.8 386.1,444.4 388.3,440.5 393.1,445.2 397.3,451.0 401.3,452.6 405.3,451.6 409.8,457.6 417.9,470.8 426.7,457.2 429.2,453.6 434.7,456.5 438.7,454.8 443.3,444.4 445.9,440.5 450.7,445.2 454.9,451.0 458.9,452.6 462.9,451.6 467.4,457.6 475.5,470.8 484.3,457.2 486.8,453.6 492.3,456.5 496.3,454.8 500.9,444.4 503.1,440.5 507.9,445.2 512.1,451.0 516.1,452.6 520.1,451.6 524.6,457.6 532.7,470.8 541.5,457.2 544.0,453.6 549.5,456.5 553.5,454.8 558.1,444.4 560.3,440.5 565.1,445.2 569.3,451.0 573.3,452.6 577.3,451.6 581.8,457.6 589.9,470.8 598.7,457.2 601.2,453.6 606.7,456.5 610.7,454.8 615.3,444.4 617.5,440.5 622.3,445.2 626.5,451.0 630.5,452.6 634.5,451.6 639.0,457.6 647.1,470.8 655.9,457.2 658.4,453.6 663.9,456.5 667.9,454.8 672.5,444.4 674.7,440.5 679.5,445.2 683.7,451.0 687.7,452.6 691.7,451.6 696.2,457.6 704.3,470.8 713.1,457.2 715.6,453.6 721.1,456.5 725.1,454.8 729.7,444.4 731.9,440.5 737.2,446.0 743.6,454.0 747.6,453.2 754.0,458.0 760.4,469.2 762.4,472.0 764.6,473.6 769.0,473.8 771.6,472.8 773.4,470.4 777.2,458.8 779.3,454.0 784.9,456.5 788.4,450.8 792.6,445.3 800.4,449.0 805.4,453.5 810.0,460.4 815.6,470.8 824.4,457.2 826.8,453.6 832.4,456.5 836.4,454.8 840.6,444.6 843.2,440.6 848.0,445.0 854.0,455.0 857.5,453.0 862.0,454.0 867.0,458.0 872.0,467.0 874.4,470.6 876.4,472.8 878.6,473.8 881.6,473.8 883.6,472.6 885.4,469.0 888.2,458.8 890.6,454.2 896.7,456.5 899.8,450.8 903.9,445.2 911.7,449.0 916.7,453.5 921.0,459.5 926.5,471.0 931.5,462.5 936.9,453.6 942.1,454.4 942.1,540.3 77,540.3" fill="url(#yl)"/>
<line x1="78" y1="481.8" x2="942" y2="481.8" stroke="#a3a38d" stroke-width="1.2" stroke-dasharray="1.4 4"/>
<line x1="258" y1="454.6" x2="942" y2="454.6" stroke="#a3a38d" stroke-width="1.2" stroke-dasharray="1.4 4"/>
<line x1="121.3" y1="476.7" x2="121.3" y2="540.3" stroke="#66665d" stroke-width="0.7" stroke-dasharray="1.7 1.1"/>
<line x1="165.7" y1="469.7" x2="165.7" y2="540.3" stroke="#66665d" stroke-width="0.7" stroke-dasharray="1.7 1.1"/>
<line x1="210.0" y1="454.0" x2="210.0" y2="540.3" stroke="#66665d" stroke-width="0.7" stroke-dasharray="1.7 1.1"/>
<line x1="254.4" y1="458.7" x2="254.4" y2="540.3" stroke="#66665d" stroke-width="0.7" stroke-dasharray="1.7 1.1"/>
<line x1="298.7" y1="464.0" x2="298.7" y2="540.3" stroke="#66665d" stroke-width="0.7" stroke-dasharray="1.7 1.1"/>
<line x1="343.0" y1="453.2" x2="343.0" y2="540.3" stroke="#66665d" stroke-width="0.7" stroke-dasharray="1.7 1.1"/>
<line x1="387.4" y1="443.1" x2="387.4" y2="540.3" stroke="#66665d" stroke-width="0.7" stroke-dasharray="1.7 1.1"/>
<line x1="431.7" y1="455.9" x2="431.7" y2="540.3" stroke="#66665d" stroke-width="0.7" stroke-dasharray="1.7 1.1"/>
<line x1="476.1" y1="470.9" x2="476.1" y2="540.3" stroke="#66665d" stroke-width="0.7" stroke-dasharray="1.7 1.1"/>
<line x1="520.4" y1="453.0" x2="520.4" y2="540.3" stroke="#66665d" stroke-width="0.7" stroke-dasharray="1.7 1.1"/>
<line x1="564.7" y1="445.8" x2="564.7" y2="540.3" stroke="#66665d" stroke-width="0.7" stroke-dasharray="1.7 1.1"/>
<line x1="609.1" y1="456.5" x2="609.1" y2="540.3" stroke="#66665d" stroke-width="0.7" stroke-dasharray="1.7 1.1"/>
<line x1="653.4" y1="462.0" x2="653.4" y2="540.3" stroke="#66665d" stroke-width="0.7" stroke-dasharray="1.7 1.1"/>
<line x1="697.8" y1="461.1" x2="697.8" y2="540.3" stroke="#66665d" stroke-width="0.7" stroke-dasharray="1.7 1.1"/>
<line x1="742.1" y1="453.1" x2="742.1" y2="540.3" stroke="#66665d" stroke-width="0.7" stroke-dasharray="1.7 1.1"/>
<line x1="786.4" y1="455.0" x2="786.4" y2="540.3" stroke="#66665d" stroke-width="0.7" stroke-dasharray="1.7 1.1"/>
<line x1="830.8" y1="456.7" x2="830.8" y2="540.3" stroke="#66665d" stroke-width="0.7" stroke-dasharray="1.7 1.1"/>
<line x1="875.1" y1="472.4" x2="875.1" y2="540.3" stroke="#66665d" stroke-width="0.7" stroke-dasharray="1.7 1.1"/>
<line x1="919.5" y1="458.4" x2="919.5" y2="540.3" stroke="#66665d" stroke-width="0.7" stroke-dasharray="1.7 1.1"/>
<line x1="77" y1="540.5" x2="942.5" y2="540.5" stroke="#8a8a84" stroke-width="0.9"/>
<text x="77.0" y="551" font-size="9.2" fill="#6c6c6c" stroke="#6c6c6c" stroke-width="0.4" text-anchor="middle" textLength="3.3" lengthAdjust="spacingAndGlyphs">0</text>
<text x="121.3" y="551" font-size="9.2" fill="#6c6c6c" stroke="#6c6c6c" stroke-width="0.4" text-anchor="middle" textLength="6.6" lengthAdjust="spacingAndGlyphs">10</text>
<text x="165.7" y="551" font-size="9.2" fill="#6c6c6c" stroke="#6c6c6c" stroke-width="0.4" text-anchor="middle" textLength="6.6" lengthAdjust="spacingAndGlyphs">20</text>
<text x="210.0" y="551" font-size="9.2" fill="#6c6c6c" stroke="#6c6c6c" stroke-width="0.4" text-anchor="middle" textLength="6.6" lengthAdjust="spacingAndGlyphs">30</text>
<text x="254.4" y="551" font-size="9.2" fill="#6c6c6c" stroke="#6c6c6c" stroke-width="0.4" text-anchor="middle" textLength="6.6" lengthAdjust="spacingAndGlyphs">40</text>
<text x="298.7" y="551" font-size="9.2" fill="#6c6c6c" stroke="#6c6c6c" stroke-width="0.4" text-anchor="middle" textLength="6.6" lengthAdjust="spacingAndGlyphs">50</text>
<text x="343.0" y="551" font-size="9.2" fill="#6c6c6c" stroke="#6c6c6c" stroke-width="0.4" text-anchor="middle" textLength="6.6" lengthAdjust="spacingAndGlyphs">60</text>
<text x="387.4" y="551" font-size="9.2" fill="#6c6c6c" stroke="#6c6c6c" stroke-width="0.4" text-anchor="middle" textLength="6.6" lengthAdjust="spacingAndGlyphs">70</text>
<text x="431.7" y="551" font-size="9.2" fill="#6c6c6c" stroke="#6c6c6c" stroke-width="0.4" text-anchor="middle" textLength="6.6" lengthAdjust="spacingAndGlyphs">80</text>
<text x="476.1" y="551" font-size="9.2" fill="#6c6c6c" stroke="#6c6c6c" stroke-width="0.4" text-anchor="middle" textLength="6.6" lengthAdjust="spacingAndGlyphs">90</text>
<text x="520.4" y="551" font-size="9.2" fill="#6c6c6c" stroke="#6c6c6c" stroke-width="0.4" text-anchor="middle" textLength="10.4" lengthAdjust="spacingAndGlyphs">100</text>
<text x="564.7" y="551" font-size="9.2" fill="#6c6c6c" stroke="#6c6c6c" stroke-width="0.4" text-anchor="middle" textLength="10.4" lengthAdjust="spacingAndGlyphs">110</text>
<text x="609.1" y="551" font-size="9.2" fill="#6c6c6c" stroke="#6c6c6c" stroke-width="0.4" text-anchor="middle" textLength="10.4" lengthAdjust="spacingAndGlyphs">120</text>
<text x="653.4" y="551" font-size="9.2" fill="#6c6c6c" stroke="#6c6c6c" stroke-width="0.4" text-anchor="middle" textLength="10.4" lengthAdjust="spacingAndGlyphs">130</text>
<text x="697.8" y="551" font-size="9.2" fill="#6c6c6c" stroke="#6c6c6c" stroke-width="0.4" text-anchor="middle" textLength="10.4" lengthAdjust="spacingAndGlyphs">140</text>
<text x="742.1" y="551" font-size="9.2" fill="#6c6c6c" stroke="#6c6c6c" stroke-width="0.4" text-anchor="middle" textLength="10.4" lengthAdjust="spacingAndGlyphs">150</text>
<text x="786.4" y="551" font-size="9.2" fill="#6c6c6c" stroke="#6c6c6c" stroke-width="0.4" text-anchor="middle" textLength="10.4" lengthAdjust="spacingAndGlyphs">160</text>
<text x="830.8" y="551" font-size="9.2" fill="#6c6c6c" stroke="#6c6c6c" stroke-width="0.4" text-anchor="middle" textLength="10.4" lengthAdjust="spacingAndGlyphs">170</text>
<text x="875.1" y="551" font-size="9.2" fill="#6c6c6c" stroke="#6c6c6c" stroke-width="0.4" text-anchor="middle" textLength="10.4" lengthAdjust="spacingAndGlyphs">180</text>
<text x="919.5" y="551" font-size="9.2" fill="#6c6c6c" stroke="#6c6c6c" stroke-width="0.4" text-anchor="middle" textLength="10.4" lengthAdjust="spacingAndGlyphs">190</text>
<rect x="267" y="477" width="15" height="9" fill="#f5f5e1" opacity="0.0"/>
<text x="274.8" y="485" font-size="8.8" fill="#808086" stroke="#808086" stroke-width="0.3" text-anchor="middle" textLength="12" lengthAdjust="spacingAndGlyphs">200</text>
<text x="274.8" y="458" font-size="8.8" fill="#808086" stroke="#808086" stroke-width="0.3" text-anchor="middle" textLength="12" lengthAdjust="spacingAndGlyphs">400</text>
<polyline points="77.0,475.5 90.0,475.4 100.0,476.4 108.0,477.0 115.0,476.2 122.0,475.6 136.0,474.2 152.0,471.0 165.0,469.0 170.0,466.8 175.0,465.6 180.0,464.6 185.0,460.0 190.0,456.2 194.0,456.8 197.0,456.0 203.0,453.4 209.0,452.2 216.0,457.6 224.0,464.4 229.6,469.2 232.0,472.0 234.4,473.7 238.4,474.6 242.0,474.0 244.5,472.8 248.0,466.0 255.2,456.6 257.5,454.0 263.2,456.6 266.4,454.8 271.2,444.4 273.9,440.5 278.7,445.2 282.9,451.0 286.9,452.6 290.9,451.6 295.4,457.6 303.5,470.8 312.3,457.2 314.8,453.6 320.3,456.5 324.3,454.8 328.9,444.4 331.1,440.5 335.9,445.2 340.1,451.0 344.1,452.6 348.1,451.6 352.6,457.6 360.7,470.8 369.5,457.2 372.0,453.6 377.5,456.5 381.5,454.8 386.1,444.4 388.3,440.5 393.1,445.2 397.3,451.0 401.3,452.6 405.3,451.6 409.8,457.6 417.9,470.8 426.7,457.2 429.2,453.6 434.7,456.5 438.7,454.8 443.3,444.4 445.9,440.5 450.7,445.2 454.9,451.0 458.9,452.6 462.9,451.6 467.4,457.6 475.5,470.8 484.3,457.2 486.8,453.6 492.3,456.5 496.3,454.8 500.9,444.4 503.1,440.5 507.9,445.2 512.1,451.0 516.1,452.6 520.1,451.6 524.6,457.6 532.7,470.8 541.5,457.2 544.0,453.6 549.5,456.5 553.5,454.8 558.1,444.4 560.3,440.5 565.1,445.2 569.3,451.0 573.3,452.6 577.3,451.6 581.8,457.6 589.9,470.8 598.7,457.2 601.2,453.6 606.7,456.5 610.7,454.8 615.3,444.4 617.5,440.5 622.3,445.2 626.5,451.0 630.5,452.6 634.5,451.6 639.0,457.6 647.1,470.8 655.9,457.2 658.4,453.6 663.9,456.5 667.9,454.8 672.5,444.4 674.7,440.5 679.5,445.2 683.7,451.0 687.7,452.6 691.7,451.6 696.2,457.6 704.3,470.8 713.1,457.2 715.6,453.6 721.1,456.5 725.1,454.8 729.7,444.4 731.9,440.5 737.2,446.0 743.6,454.0 747.6,453.2 754.0,458.0 760.4,469.2 762.4,472.0 764.6,473.6 769.0,473.8 771.6,472.8 773.4,470.4 777.2,458.8 779.3,454.0 784.9,456.5 788.4,450.8 792.6,445.3 800.4,449.0 805.4,453.5 810.0,460.4 815.6,470.8 824.4,457.2 826.8,453.6 832.4,456.5 836.4,454.8 840.6,444.6 843.2,440.6 848.0,445.0 854.0,455.0 857.5,453.0 862.0,454.0 867.0,458.0 872.0,467.0 874.4,470.6 876.4,472.8 878.6,473.8 881.6,473.8 883.6,472.6 885.4,469.0 888.2,458.8 890.6,454.2 896.7,456.5 899.8,450.8 903.9,445.2 911.7,449.0 916.7,453.5 921.0,459.5 926.5,471.0 931.5,462.5 936.9,453.6 942.1,454.4" fill="none" stroke="#0b9a68" stroke-width="3.5" stroke-linejoin="round" stroke-linecap="round"/>
<line x1="152.4" y1="470.9" x2="152.4" y2="563.8" stroke="#55555a" stroke-width="0.9"/>
<line x1="135.7" y1="427.5" x2="135.7" y2="458.4" stroke="#55555a" stroke-width="0.9"/>
<line x1="208.7" y1="452.3" x2="208.7" y2="563.8" stroke="#55555a" stroke-width="0.9"/>
<line x1="192.0" y1="408.5" x2="192.0" y2="439.8" stroke="#55555a" stroke-width="0.9"/>
<line x1="245.5" y1="470.9" x2="245.5" y2="563.8" stroke="#55555a" stroke-width="0.9"/>
<line x1="228.8" y1="428.5" x2="228.8" y2="458.4" stroke="#55555a" stroke-width="0.9"/>
<line x1="762.9" y1="472.4" x2="762.9" y2="563.8" stroke="#55555a" stroke-width="0.9"/>
<line x1="746.2" y1="428.5" x2="746.2" y2="452.5" stroke="#55555a" stroke-width="0.9"/>
<line x1="77.0" y1="475.5" x2="77.0" y2="562.3" stroke="#000" stroke-width="1.65"/>
<line x1="257.5" y1="454.0" x2="257.5" y2="563.8" stroke="#000" stroke-width="1.65"/>
<line x1="240.8" y1="410.0" x2="240.8" y2="441.5" stroke="#000" stroke-width="1.5"/>
<line x1="273.9" y1="440.5" x2="273.9" y2="563.8" stroke="#000" stroke-width="1.65"/>
<line x1="257.2" y1="397.5" x2="257.2" y2="428.0" stroke="#000" stroke-width="1.5"/>
<line x1="314.7" y1="453.8" x2="314.7" y2="563.8" stroke="#000" stroke-width="1.65"/>
<line x1="298.0" y1="411.0" x2="298.0" y2="441.3" stroke="#000" stroke-width="1.5"/>
<line x1="331.1" y1="440.5" x2="331.1" y2="563.8" stroke="#000" stroke-width="1.65"/>
<line x1="314.4" y1="397.5" x2="314.4" y2="428.0" stroke="#000" stroke-width="1.5"/>
<line x1="371.9" y1="453.8" x2="371.9" y2="563.8" stroke="#000" stroke-width="1.65"/>
<line x1="355.2" y1="411.5" x2="355.2" y2="441.3" stroke="#000" stroke-width="1.5"/>
<line x1="388.3" y1="440.5" x2="388.3" y2="563.8" stroke="#000" stroke-width="1.65"/>
<line x1="371.6" y1="397.5" x2="371.6" y2="428.0" stroke="#000" stroke-width="1.5"/>
<line x1="429.5" y1="453.8" x2="429.5" y2="563.8" stroke="#000" stroke-width="1.65"/>
<line x1="412.8" y1="411.5" x2="412.8" y2="441.3" stroke="#000" stroke-width="1.5"/>
<line x1="445.9" y1="440.5" x2="445.9" y2="563.8" stroke="#000" stroke-width="1.65"/>
<line x1="429.2" y1="397.5" x2="429.2" y2="428.0" stroke="#000" stroke-width="1.5"/>
<line x1="486.7" y1="453.8" x2="486.7" y2="563.8" stroke="#000" stroke-width="1.65"/>
<line x1="470.0" y1="411.5" x2="470.0" y2="441.3" stroke="#000" stroke-width="1.5"/>
<line x1="503.1" y1="440.5" x2="503.1" y2="563.8" stroke="#000" stroke-width="1.65"/>
<line x1="486.4" y1="397.5" x2="486.4" y2="428.0" stroke="#000" stroke-width="1.5"/>
<line x1="543.9" y1="453.8" x2="543.9" y2="563.8" stroke="#000" stroke-width="1.65"/>
<line x1="527.2" y1="411.5" x2="527.2" y2="441.3" stroke="#000" stroke-width="1.5"/>
<line x1="560.3" y1="440.5" x2="560.3" y2="563.8" stroke="#000" stroke-width="1.65"/>
<line x1="543.6" y1="397.5" x2="543.6" y2="428.0" stroke="#000" stroke-width="1.5"/>
<line x1="601.1" y1="453.8" x2="601.1" y2="563.8" stroke="#000" stroke-width="1.65"/>
<line x1="584.4" y1="411.5" x2="584.4" y2="441.3" stroke="#000" stroke-width="1.5"/>
<line x1="617.5" y1="440.5" x2="617.5" y2="563.8" stroke="#000" stroke-width="1.65"/>
<line x1="600.8" y1="397.5" x2="600.8" y2="428.0" stroke="#000" stroke-width="1.5"/>
<line x1="658.3" y1="453.8" x2="658.3" y2="563.8" stroke="#000" stroke-width="1.65"/>
<line x1="641.6" y1="411.5" x2="641.6" y2="441.3" stroke="#000" stroke-width="1.5"/>
<line x1="674.7" y1="440.5" x2="674.7" y2="563.8" stroke="#000" stroke-width="1.65"/>
<line x1="658.0" y1="397.5" x2="658.0" y2="428.0" stroke="#000" stroke-width="1.5"/>
<line x1="715.5" y1="453.8" x2="715.5" y2="563.8" stroke="#000" stroke-width="1.65"/>
<line x1="698.8" y1="411.5" x2="698.8" y2="441.3" stroke="#000" stroke-width="1.5"/>
<line x1="731.9" y1="440.5" x2="731.9" y2="563.8" stroke="#000" stroke-width="1.65"/>
<line x1="715.2" y1="397.5" x2="715.2" y2="428.0" stroke="#000" stroke-width="1.5"/>
<line x1="779.3" y1="454.0" x2="779.3" y2="563.8" stroke="#000" stroke-width="1.65"/>
<line x1="762.6" y1="411.5" x2="762.6" y2="441.5" stroke="#000" stroke-width="1.5"/>
<line x1="792.6" y1="445.3" x2="792.6" y2="563.8" stroke="#000" stroke-width="1.65"/>
<line x1="775.9" y1="399.5" x2="775.9" y2="432.8" stroke="#000" stroke-width="1.5"/>
<line x1="826.8" y1="453.6" x2="826.8" y2="563.8" stroke="#000" stroke-width="1.65"/>
<line x1="810.1" y1="411.5" x2="810.1" y2="441.1" stroke="#000" stroke-width="1.5"/>
<line x1="843.2" y1="440.6" x2="843.2" y2="563.8" stroke="#000" stroke-width="1.65"/>
<line x1="826.5" y1="397.5" x2="826.5" y2="428.1" stroke="#000" stroke-width="1.5"/>
<line x1="890.6" y1="454.2" x2="890.6" y2="563.8" stroke="#000" stroke-width="1.65"/>
<line x1="873.9" y1="412.0" x2="873.9" y2="441.7" stroke="#000" stroke-width="1.5"/>
<line x1="903.9" y1="445.2" x2="903.9" y2="563.8" stroke="#000" stroke-width="1.65"/>
<line x1="887.2" y1="400.0" x2="887.2" y2="432.7" stroke="#000" stroke-width="1.5"/>
<line x1="942.1" y1="286.7" x2="942.1" y2="562.3" stroke="#000" stroke-width="1.65"/>
<line x1="60.3" y1="240.8" x2="60.3" y2="464" stroke="#000" stroke-width="1.6"/>
<circle cx="77.0" cy="475.5" r="4.5" fill="#fff"/><circle cx="77.0" cy="475.5" r="3.4" fill="#000"/>
<circle cx="257.5" cy="454.0" r="4.5" fill="#fff"/><circle cx="257.5" cy="454.0" r="3.4" fill="#000"/>
<circle cx="273.9" cy="440.5" r="4.5" fill="#fff"/><circle cx="273.9" cy="440.5" r="3.4" fill="#000"/>
<circle cx="314.7" cy="453.8" r="4.5" fill="#fff"/><circle cx="314.7" cy="453.8" r="3.4" fill="#000"/>
<circle cx="331.1" cy="440.5" r="4.5" fill="#fff"/><circle cx="331.1" cy="440.5" r="3.4" fill="#000"/>
<circle cx="371.9" cy="453.8" r="4.5" fill="#fff"/><circle cx="371.9" cy="453.8" r="3.4" fill="#000"/>
<circle cx="388.3" cy="440.5" r="4.5" fill="#fff"/><circle cx="388.3" cy="440.5" r="3.4" fill="#000"/>
<circle cx="429.5" cy="453.8" r="4.5" fill="#fff"/><circle cx="429.5" cy="453.8" r="3.4" fill="#000"/>
<circle cx="445.9" cy="440.5" r="4.5" fill="#fff"/><circle cx="445.9" cy="440.5" r="3.4" fill="#000"/>
<circle cx="486.7" cy="453.8" r="4.5" fill="#fff"/><circle cx="486.7" cy="453.8" r="3.4" fill="#000"/>
<circle cx="503.1" cy="440.5" r="4.5" fill="#fff"/><circle cx="503.1" cy="440.5" r="3.4" fill="#000"/>
<circle cx="543.9" cy="453.8" r="4.5" fill="#fff"/><circle cx="543.9" cy="453.8" r="3.4" fill="#000"/>
<circle cx="560.3" cy="440.5" r="4.5" fill="#fff"/><circle cx="560.3" cy="440.5" r="3.4" fill="#000"/>
<circle cx="601.1" cy="453.8" r="4.5" fill="#fff"/><circle cx="601.1" cy="453.8" r="3.4" fill="#000"/>
<circle cx="617.5" cy="440.5" r="4.5" fill="#fff"/><circle cx="617.5" cy="440.5" r="3.4" fill="#000"/>
<circle cx="658.3" cy="453.8" r="4.5" fill="#fff"/><circle cx="658.3" cy="453.8" r="3.4" fill="#000"/>
<circle cx="674.7" cy="440.5" r="4.5" fill="#fff"/><circle cx="674.7" cy="440.5" r="3.4" fill="#000"/>
<circle cx="715.5" cy="453.8" r="4.5" fill="#fff"/><circle cx="715.5" cy="453.8" r="3.4" fill="#000"/>
<circle cx="731.9" cy="440.5" r="4.5" fill="#fff"/><circle cx="731.9" cy="440.5" r="3.4" fill="#000"/>
<circle cx="779.3" cy="454.0" r="4.5" fill="#fff"/><circle cx="779.3" cy="454.0" r="3.4" fill="#000"/>
<circle cx="792.6" cy="445.3" r="4.5" fill="#fff"/><circle cx="792.6" cy="445.3" r="3.4" fill="#000"/>
<circle cx="826.8" cy="453.6" r="4.5" fill="#fff"/><circle cx="826.8" cy="453.6" r="3.4" fill="#000"/>
<circle cx="843.2" cy="440.6" r="4.5" fill="#fff"/><circle cx="843.2" cy="440.6" r="3.4" fill="#000"/>
<circle cx="890.6" cy="454.2" r="4.5" fill="#fff"/><circle cx="890.6" cy="454.2" r="3.4" fill="#000"/>
<circle cx="903.9" cy="445.2" r="4.5" fill="#fff"/><circle cx="903.9" cy="445.2" r="3.4" fill="#000"/>
<circle cx="942.1" cy="454.4" r="4.5" fill="#fff"/><circle cx="942.1" cy="454.4" r="3.4" fill="#000"/>
<text transform="translate(155.6,580.5) rotate(-90)" font-size="11.0"  fill="#6c6c6c" textLength="12.0" lengthAdjust="spacingAndGlyphs">17.0</text>
<text transform="translate(138.6,424.0) rotate(-90)" font-size="15.3" fill="#5c5c5c" textLength="87.0" lengthAdjust="spacingAndGlyphs">264 - Fagnano Olona</text>
<text transform="translate(211.9,581.2) rotate(-90)" font-size="11.0"  fill="#6c6c6c" textLength="13.4" lengthAdjust="spacingAndGlyphs">29.7</text>
<text transform="translate(194.9,405.0) rotate(-90)" font-size="15.3" fill="#5c5c5c" textLength="67.5" lengthAdjust="spacingAndGlyphs">397 - Morazzone</text>
<text transform="translate(248.7,581.9) rotate(-90)" font-size="11.0"  fill="#6c6c6c" textLength="14.8" lengthAdjust="spacingAndGlyphs">38.0</text>
<text transform="translate(231.7,425.0) rotate(-90)" font-size="15.3" fill="#5c5c5c" textLength="210.3" lengthAdjust="spacingAndGlyphs">256 - Varese Schiranna - start local circuit (9 laps)</text>
<text transform="translate(766.1,582.4) rotate(-90)" font-size="11.0"  fill="#6c6c6c" textLength="15.8" lengthAdjust="spacingAndGlyphs">154.7</text>
<text transform="translate(749.1,425.0) rotate(-90)" font-size="15.3" fill="#5c5c5c" textLength="257.5" lengthAdjust="spacingAndGlyphs">257 - Varese Schiranna - exit circuit - start final circuit (2 laps)</text>
<text transform="translate(80.4,577.3) rotate(-90)" font-size="12.6" stroke="#000" stroke-width="0.6" fill="#000" textLength="13.0" lengthAdjust="spacingAndGlyphs">0.0</text>
<text transform="translate(262.2,582.0) rotate(-90)" font-size="11.0" stroke="#000" stroke-width="0.6" fill="#000" textLength="15.1" lengthAdjust="spacingAndGlyphs">40.7</text>
<text transform="translate(244.3,406.5) rotate(-90)" font-size="15.3" font-weight="bold" fill="#000" textLength="212.5" lengthAdjust="spacingAndGlyphs">384 - CASBENO (2.5 KM - 4.9%) / 1 KM TO GO</text>
<text transform="translate(277.1,582.0) rotate(-90)" font-size="11.0" stroke="#000" stroke-width="0.6" fill="#000" textLength="15.1" lengthAdjust="spacingAndGlyphs">44.4</text>
<text transform="translate(260.7,394.0) rotate(-90)" font-size="15.3" font-weight="bold" fill="#000" textLength="75.0" lengthAdjust="spacingAndGlyphs">478 - MONTELLO</text>
<text transform="translate(317.9,582.0) rotate(-90)" font-size="11.0" stroke="#000" stroke-width="0.6" fill="#000" textLength="15.1" lengthAdjust="spacingAndGlyphs">53.6</text>
<text transform="translate(301.5,407.5) rotate(-90)" font-size="15.3" font-weight="bold" fill="#000" textLength="148.5" lengthAdjust="spacingAndGlyphs">384 - CASBENO (2.5 KM - 4.7%)</text>
<text transform="translate(334.3,582.0) rotate(-90)" font-size="11.0" stroke="#000" stroke-width="0.6" fill="#000" textLength="15.1" lengthAdjust="spacingAndGlyphs">57.3</text>
<text transform="translate(317.9,394.0) rotate(-90)" font-size="15.3" font-weight="bold" fill="#000" textLength="75.0" lengthAdjust="spacingAndGlyphs">478 - MONTELLO</text>
<text transform="translate(375.1,582.0) rotate(-90)" font-size="11.0" stroke="#000" stroke-width="0.6" fill="#000" textLength="15.1" lengthAdjust="spacingAndGlyphs">66.5</text>
<text transform="translate(358.7,408.0) rotate(-90)" font-size="15.3" font-weight="bold" fill="#000" textLength="72.0" lengthAdjust="spacingAndGlyphs">384 - CASBENO</text>
<text transform="translate(391.5,582.0) rotate(-90)" font-size="11.0" stroke="#000" stroke-width="0.6" fill="#000" textLength="15.1" lengthAdjust="spacingAndGlyphs">70.2</text>
<text transform="translate(375.1,394.0) rotate(-90)" font-size="15.3" font-weight="bold" fill="#000" textLength="143.5" lengthAdjust="spacingAndGlyphs">478 - MONTELLO (2 KM - 5.2%)</text>
<text transform="translate(432.7,582.0) rotate(-90)" font-size="11.0" stroke="#000" stroke-width="0.6" fill="#000" textLength="15.1" lengthAdjust="spacingAndGlyphs">79.5</text>
<text transform="translate(416.3,408.0) rotate(-90)" font-size="15.3" font-weight="bold" fill="#000" textLength="72.0" lengthAdjust="spacingAndGlyphs">384 - CASBENO</text>
<text transform="translate(449.1,582.0) rotate(-90)" font-size="11.0" stroke="#000" stroke-width="0.6" fill="#000" textLength="15.1" lengthAdjust="spacingAndGlyphs">83.2</text>
<text transform="translate(432.7,394.0) rotate(-90)" font-size="15.3" font-weight="bold" fill="#000" textLength="75.0" lengthAdjust="spacingAndGlyphs">478 - MONTELLO</text>
<text transform="translate(489.9,582.0) rotate(-90)" font-size="11.0" stroke="#000" stroke-width="0.6" fill="#000" textLength="15.1" lengthAdjust="spacingAndGlyphs">92.4</text>
<text transform="translate(473.5,408.0) rotate(-90)" font-size="15.3" font-weight="bold" fill="#000" textLength="72.0" lengthAdjust="spacingAndGlyphs">384 - CASBENO</text>
<text transform="translate(506.3,581.2) rotate(-90)" font-size="11.0" stroke="#000" stroke-width="0.6" fill="#000" textLength="13.5" lengthAdjust="spacingAndGlyphs">96.1</text>
<text transform="translate(489.9,394.0) rotate(-90)" font-size="15.3" font-weight="bold" fill="#000" textLength="75.0" lengthAdjust="spacingAndGlyphs">478 - MONTELLO</text>
<text transform="translate(547.1,583.5) rotate(-90)" font-size="11.0" stroke="#000" stroke-width="0.6" fill="#000" textLength="17.9" lengthAdjust="spacingAndGlyphs">105.3</text>
<text transform="translate(530.7,408.0) rotate(-90)" font-size="15.3" font-weight="bold" fill="#000" textLength="72.0" lengthAdjust="spacingAndGlyphs">384 - CASBENO</text>
<text transform="translate(563.5,583.5) rotate(-90)" font-size="11.0" stroke="#000" stroke-width="0.6" fill="#000" textLength="17.9" lengthAdjust="spacingAndGlyphs">109.0</text>
<text transform="translate(547.1,394.0) rotate(-90)" font-size="15.3" font-weight="bold" fill="#000" textLength="75.0" lengthAdjust="spacingAndGlyphs">478 - MONTELLO</text>
<text transform="translate(604.3,582.7) rotate(-90)" font-size="11.0" stroke="#000" stroke-width="0.6" fill="#000" textLength="16.4" lengthAdjust="spacingAndGlyphs">118.2</text>
<text transform="translate(587.9,408.0) rotate(-90)" font-size="15.3" font-weight="bold" fill="#000" textLength="72.0" lengthAdjust="spacingAndGlyphs">384 - CASBENO</text>
<text transform="translate(620.7,582.7) rotate(-90)" font-size="11.0" stroke="#000" stroke-width="0.6" fill="#000" textLength="16.4" lengthAdjust="spacingAndGlyphs">121.9</text>
<text transform="translate(604.3,394.0) rotate(-90)" font-size="15.3" font-weight="bold" fill="#000" textLength="75.0" lengthAdjust="spacingAndGlyphs">478 - MONTELLO</text>
<text transform="translate(661.5,581.9) rotate(-90)" font-size="11.0" stroke="#000" stroke-width="0.6" fill="#000" textLength="14.8" lengthAdjust="spacingAndGlyphs">131.1</text>
<text transform="translate(645.1,408.0) rotate(-90)" font-size="15.3" font-weight="bold" fill="#000" textLength="72.0" lengthAdjust="spacingAndGlyphs">384 - CASBENO</text>
<text transform="translate(677.9,583.5) rotate(-90)" font-size="11.0" stroke="#000" stroke-width="0.6" fill="#000" textLength="17.9" lengthAdjust="spacingAndGlyphs">134.8</text>
<text transform="translate(661.5,394.0) rotate(-90)" font-size="15.3" font-weight="bold" fill="#000" textLength="75.0" lengthAdjust="spacingAndGlyphs">478 - MONTELLO</text>
<text transform="translate(718.7,583.5) rotate(-90)" font-size="11.0" stroke="#000" stroke-width="0.6" fill="#000" textLength="17.9" lengthAdjust="spacingAndGlyphs">144.0</text>
<text transform="translate(702.3,408.0) rotate(-90)" font-size="15.3" font-weight="bold" fill="#000" textLength="72.0" lengthAdjust="spacingAndGlyphs">384 - CASBENO</text>
<text transform="translate(735.1,583.5) rotate(-90)" font-size="11.0" stroke="#000" stroke-width="0.6" fill="#000" textLength="17.9" lengthAdjust="spacingAndGlyphs">147.7</text>
<text transform="translate(718.7,394.0) rotate(-90)" font-size="15.3" font-weight="bold" fill="#000" textLength="75.0" lengthAdjust="spacingAndGlyphs">478 - MONTELLO</text>
<text transform="translate(782.5,583.5) rotate(-90)" font-size="11.0" stroke="#000" stroke-width="0.6" fill="#000" textLength="17.9" lengthAdjust="spacingAndGlyphs">158.4</text>
<text transform="translate(766.1,408.0) rotate(-90)" font-size="15.3" font-weight="bold" fill="#000" textLength="151.5" lengthAdjust="spacingAndGlyphs">377 - MOROSOLO (1.6 KM - 7.8%)</text>
<text transform="translate(795.8,582.7) rotate(-90)" font-size="11.0" stroke="#000" stroke-width="0.6" fill="#000" textLength="16.4" lengthAdjust="spacingAndGlyphs">161.4</text>
<text transform="translate(779.4,396.0) rotate(-90)" font-size="15.3" font-weight="bold" fill="#000" textLength="74.0" lengthAdjust="spacingAndGlyphs">445 - CASCIAGO</text>
<text transform="translate(830.0,582.7) rotate(-90)" font-size="11.0" stroke="#000" stroke-width="0.6" fill="#000" textLength="16.4" lengthAdjust="spacingAndGlyphs">169.1</text>
<text transform="translate(813.6,408.0) rotate(-90)" font-size="15.3" font-weight="bold" fill="#000" textLength="72.0" lengthAdjust="spacingAndGlyphs">384 - CASBENO</text>
<text transform="translate(846.4,583.5) rotate(-90)" font-size="11.0" stroke="#000" stroke-width="0.6" fill="#000" textLength="17.9" lengthAdjust="spacingAndGlyphs">172.8</text>
<text transform="translate(830.0,394.0) rotate(-90)" font-size="15.3" font-weight="bold" fill="#000" textLength="75.0" lengthAdjust="spacingAndGlyphs">478 - MONTELLO</text>
<text transform="translate(893.8,583.5) rotate(-90)" font-size="11.0" stroke="#000" stroke-width="0.6" fill="#000" textLength="17.9" lengthAdjust="spacingAndGlyphs">183.5</text>
<text transform="translate(877.4,408.5) rotate(-90)" font-size="15.3" font-weight="bold" fill="#000" textLength="79.0" lengthAdjust="spacingAndGlyphs">377 - MOROSOLO</text>
<text transform="translate(907.1,583.5) rotate(-90)" font-size="11.0" stroke="#000" stroke-width="0.6" fill="#000" textLength="17.9" lengthAdjust="spacingAndGlyphs">186.5</text>
<text transform="translate(890.7,396.5) rotate(-90)" font-size="15.3" font-weight="bold" fill="#000" textLength="141.0" lengthAdjust="spacingAndGlyphs">445 - CASCIAGO (1.8 KM - 5%)</text>
<text transform="translate(945.5,585.5) rotate(-90)" font-size="12.6" stroke="#000" stroke-width="0.6" fill="#000" textLength="21.8" lengthAdjust="spacingAndGlyphs">195.1</text>
<path d="M15.2,245.1 Q15.2,241.1 19.2,241.1 L42.8,241.1 Q46.8,241.1 46.8,245.1 L46.8,463.5 A15.8,15.8 0 0 1 15.2,463.5 Z" fill="url(#gl)" stroke="#18a95a" stroke-width="4.8" stroke-linejoin="round"/>
<path d="M953.6,291.4 Q953.6,287.4 957.6,287.4 L980.8,287.4 Q984.8,287.4 984.8,291.4 L984.8,442.9 A15.6,15.6 0 0 1 953.6,442.9 Z" fill="url(#gr)" stroke="#f6071f" stroke-width="4.8" stroke-linejoin="round"/>
<text transform="translate(36.0,439.3) rotate(-90)" font-size="18.7" font-weight="bold" fill="#000" stroke="#000" stroke-width="0.55" textLength="186" lengthAdjust="spacingAndGlyphs">226 &#8211; BUSTO ARSIZIO</text>
<text transform="translate(974.8,418.5) rotate(-90)" font-size="18.9" font-weight="bold" fill="#000" stroke="#000" stroke-width="0.55" textLength="119.5" lengthAdjust="spacingAndGlyphs">377 &#8211; VARESE</text>
<circle cx="30.9" cy="463.6" r="14.2" fill="url(#gg)" stroke="#231a1e" stroke-width="1.5"/>
<g fill="none" stroke="#fff" stroke-width="1.8"><circle cx="23.50" cy="468.00" r="3.8"/><circle cx="38.10" cy="468.00" r="3.8"/></g>
<polyline points="23.50,468.00 27.30,462.20 33.50,462.00 30.30,467.80 27.30,462.20" fill="none" stroke="#fff" stroke-width="1.5" stroke-linecap="round" stroke-linejoin="round"/>
<polyline points="38.10,468.00 35.30,461.20" fill="none" stroke="#fff" stroke-width="1.1" stroke-linecap="round" stroke-linejoin="round"/>
<polyline points="26.10,458.00 32.50,456.20" fill="none" stroke="#fff" stroke-width="3.7" stroke-linecap="round" stroke-linejoin="round"/>
<polyline points="32.70,456.60 35.30,458.60 35.90,461.40" fill="none" stroke="#fff" stroke-width="1.7" stroke-linecap="round" stroke-linejoin="round"/>
<polyline points="26.10,459.00 30.30,462.00 29.50,467.40" fill="none" stroke="#fff" stroke-width="2.3" stroke-linecap="round" stroke-linejoin="round"/>
<polyline points="26.50,459.60 28.30,463.80 31.30,465.80" fill="none" stroke="#fff" stroke-width="1.9" stroke-linecap="round" stroke-linejoin="round"/>
<ellipse cx="34.80" cy="455.90" rx="1.8" ry="1.5" fill="#fff"/>
<circle cx="969.5" cy="442.9" r="13.9" fill="url(#rg)" stroke="#24161a" stroke-width="1.5"/>
<path d="M959.9,443.4 c-1,-6 2,-11 6.5,-12.5 c-1.5,4 -2.5,9 -1.5,14.5 z" fill="#ff5a1a"/>
<path d="M970.1,435.5 c2,-3.5 6,-5 9.5,-3 c2.5,1.8 3.6,5 3.4,8.5 c-3,-2.5 -8,-3.5 -11,-1 z" fill="#ff5a1a"/>
<g fill="none" stroke="#fff" stroke-width="1.8"><circle cx="962.40" cy="447.80" r="3.9"/><circle cx="976.40" cy="447.80" r="3.9"/></g>
<polyline points="962.40,447.80 966.10,442.30 971.90,442.10 968.90,447.70 966.10,442.30" fill="none" stroke="#fff" stroke-width="1.5" stroke-linecap="round" stroke-linejoin="round"/>
<polyline points="976.40,447.80 974.10,441.70 975.50,440.70" fill="none" stroke="#fff" stroke-width="1.3" stroke-linecap="round" stroke-linejoin="round"/>
<polyline points="968.50,430.30 966.70,435.50 967.30,440.50" fill="none" stroke="#fff" stroke-width="3.6" stroke-linecap="round" stroke-linejoin="round"/>
<polyline points="970.10,429.30 969.50,433.90" fill="none" stroke="#fff" stroke-width="2.4" stroke-linecap="round" stroke-linejoin="round"/>
<polyline points="967.30,440.50 969.30,443.50 968.10,448.30" fill="none" stroke="#fff" stroke-width="2.6" stroke-linecap="round" stroke-linejoin="round"/>
<polyline points="966.90,440.90 966.50,444.50 967.90,446.30" fill="none" stroke="#fff" stroke-width="2.0" stroke-linecap="round" stroke-linejoin="round"/>
<polyline points="967.90,436.90 971.10,439.50 973.90,441.50" fill="none" stroke="#fff" stroke-width="1.5" stroke-linecap="round" stroke-linejoin="round"/>
<rect x="887.6" y="597.6" width="13.6" height="3" fill="#f2102c"/>
<rect x="924.5" y="598.8" width="5" height="1.2" fill="#c9c9c9"/>
<rect x="962" y="598.8" width="4" height="1.2" fill="#c9c9c9"/>
</svg>
</body></html>
